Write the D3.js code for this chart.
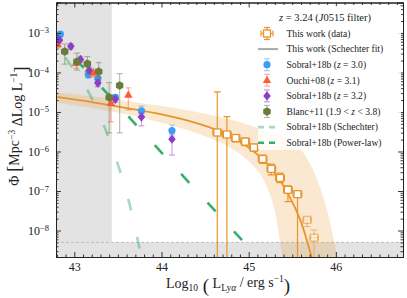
<!DOCTYPE html>
<html>
<head>
<meta charset="utf-8">
<script src="https://cdn.jsdelivr.net/npm/d3@7"></script>
<style>
body { margin: 0; background: #fff; }
text { font-family: "Liberation Serif", "DejaVu Serif", serif; fill: #222; }
</style>
</head>
<body>
<div id="chart"></div>
<script>
// ---- data (log10 L, log10 Phi) ----
const thisWorkL   = [44.64, 44.75, 44.85, 44.96, 45.06, 45.16, 45.26, 45.36, 45.45, 45.56, 45.67, 45.75];
const thisWorkPhi = [-5.52, -5.57, -5.66, -5.75, -5.90, -6.19, -6.44, -6.67, -6.97, -7.08, -7.73, -8.18];
const thisWorkHi  = [-4.49, -5.12, -5.57, -5.66, -5.81, -6.09, -6.32, -6.55, -6.87, -7.02, -7.68, -7.99];
const thisWorkLo  = [-9.5, -9.5, -5.76, -5.85, -6.00, -6.30, -6.59, -6.79, -7.27, -9.5, -7.90, -9.5];
const thisWorkPale = [0, 0, 0, 0, 0, 0, 0, 0, 0, 0, 1, 1];

const fitL   = [42.79, 43.2, 43.6, 44.0, 44.4, 44.8, 45.0, 45.2, 45.4, 45.5, 45.6, 45.7, 45.76];
const fitPhi = [-4.62, -4.75, -4.90, -5.06, -5.28, -5.62, -5.90, -6.28, -6.87, -7.28, -7.78, -8.50, -9.0];
const bandL     = [42.79, 43.2, 43.6, 44.0, 44.4, 44.8, 45.0, 45.2, 45.3, 45.4, 45.5, 45.6, 45.7, 45.8, 45.9, 46.0, 46.05];
const bandUpper = [-4.50, -4.60, -4.72, -4.85, -5.00, -5.20, -5.33, -5.48, -5.56, -5.64, -5.74, -5.95, -6.30, -6.80, -7.50, -8.50, -9.20];
const bandLower = [-4.76, -4.90, -5.06, -5.27, -5.53, -5.92, -6.25, -6.85, -7.50, -8.80, -9.5, -9.5, -9.5, -9.5, -9.5, -9.5, -9.5];

const sobral30L   = [42.84, 43.04, 43.16, 43.27, 43.47, 43.77, 44.12];
const sobral30Phi = [-3.03, -3.72, -4.06, -4.16, -4.63, -4.97, -5.47];
const sobral30Hi  = [-2.97, -3.65, -3.99, -4.09, -4.56, -4.85, -5.33];
const sobral30Lo  = [-3.09, -3.79, -4.13, -4.23, -4.70, -5.08, -5.61];

const ouchiL   = [42.81, 43.02, 43.22, 43.42, 43.62];
const ouchiPhi = [-3.29, -3.76, -4.01, -4.78, -4.57];
const ouchiHi  = [-3.22, -3.66, -3.91, -4.62, -4.39];
const ouchiLo  = [-3.38, -3.90, -4.12, -5.25, -4.95];

const sobral32L   = [42.83, 42.96, 43.07, 43.17, 43.27, 43.47, 43.77, 44.12];
const sobral32Phi = [-3.18, -3.34, -3.67, -3.95, -4.27, -4.68, -5.13, -5.69];
const sobral32Hi  = [-3.11, -3.27, -3.59, -3.87, -4.18, -4.60, -5.03, -5.56];
const sobral32Lo  = [-3.25, -3.41, -3.75, -4.03, -4.36, -4.76, -5.35, -6.09];

const blancL   = [42.89, 43.03, 43.15, 43.28, 43.40, 43.52];
const blancPhi = [-3.47, -3.73, -3.78, -3.98, -4.63, -4.33];
const blancHi  = [-3.28, -3.51, -3.60, -3.75, -4.26, -4.03];
const blancLo  = [-3.79, -3.94, -3.98, -4.12, -5.53, -5.53];

const schechterL   = [42.79, 42.89, 43.15, 43.33, 43.49, 43.62, 43.72, 43.78];
const schechterPhi = [-3.26, -3.60, -4.44, -5.29, -6.26, -7.21, -8.16, -8.80];
const powerL   = [42.79, 44.98];
const powerPhi = [-3.12, -8.38];

const xTicks = [43, 44, 45, 46];
const yTicks = [-8, -7, -6, -5, -4, -3];
const limitL = 43.43;
const limitPhi = -8.30;

// ---- layout ----
const W = 407, H = 298;
const margin = {top: 2.5, right: 4, bottom: 41, left: 56},
    width = W - margin.left - margin.right,
    height = H - margin.top - margin.bottom;

const orange = "#e8942c", blue = "#3c9ef2", red = "#ff5b38", purple = "#8a3dc6", olive = "#6b7b3b",
    green = "#35b06c";

const svg = d3.select("#chart").append("svg")
    .attr("width", W).attr("height", H);
const g = svg.append("g").attr("transform", `translate(${margin.left},${margin.top})`);

const x = d3.scaleLinear().domain([42.79, 46.77]).range([0, width]);
const y = d3.scaleLinear().domain([-8.67, -2.23]).range([height, 0]);

svg.append("defs").append("clipPath").attr("id", "plot")
    .append("rect").attr("width", width).attr("height", height);
const plot = g.append("g").attr("clip-path", "url(#plot)");

// shaded regions
plot.append("rect").attr("x", 0).attr("y", 0)
    .attr("width", x(limitL)).attr("height", height)
    .attr("fill", "#000").attr("opacity", 0.11);
plot.append("rect").attr("x", x(limitL)).attr("y", y(limitPhi))
    .attr("width", width - x(limitL)).attr("height", height - y(limitPhi))
    .attr("fill", "#000").attr("opacity", 0.11);
plot.append("line").attr("x1", 0).attr("x2", width)
    .attr("y1", y(limitPhi)).attr("y2", y(limitPhi))
    .attr("stroke", "#bdbdbd").attr("stroke-dasharray", "3,2").attr("stroke-width", 1);

// fit band + fit line
const bandData = bandL.map((l, i) => ({l, hi: bandUpper[i], lo: bandLower[i]}));
plot.append("path").datum(bandData)
    .attr("fill", orange).attr("opacity", 0.22)
    .attr("d", d3.area().curve(d3.curveMonotoneX)
        .x(d => x(d.l)).y0(d => y(d.lo)).y1(d => y(d.hi)));

// Sobral+18b model lines
plot.append("path").datum(schechterL.map((l, i) => [l, schechterPhi[i]]))
    .attr("fill", "none").attr("stroke", green).attr("stroke-opacity", 0.45)
    .attr("stroke-width", 2.6).attr("stroke-dasharray", "12,27").attr("stroke-dashoffset", 22)
    .attr("d", d3.line().curve(d3.curveMonotoneX).x(d => x(d[0])).y(d => y(d[1])));
plot.append("path").datum(powerL.map((l, i) => [l, powerPhi[i]]))
    .attr("fill", "none").attr("stroke", green)
    .attr("stroke-width", 2.6).attr("stroke-dasharray", "12,27").attr("stroke-dashoffset", 10)
    .attr("d", d3.line().x(d => x(d[0])).y(d => y(d[1])));

plot.append("path").datum(fitL.map((l, i) => [l, fitPhi[i]]))
    .attr("fill", "none").attr("stroke", orange).attr("stroke-width", 1.8)
    .attr("d", d3.line().curve(d3.curveMonotoneX).x(d => x(d[0])).y(d => y(d[1])));

// marker shapes
function marker(sel, shape, color) {
    if (shape === "circle") {
        sel.append("circle").attr("r", 3.6).attr("fill", color);
    } else if (shape === "triangle") {
        sel.append("path").attr("d", "M0,-4.6L4.2,2.8L-4.2,2.8Z").attr("fill", color);
    } else if (shape === "diamond") {
        sel.append("path").attr("d", "M0,-4.6L3.8,0L0,4.6L-3.8,0Z").attr("fill", color);
    } else if (shape === "hexagon") {
        const pts = d3.range(6).map(k => {
            const a = Math.PI / 6 + k * Math.PI / 3;
            return [4.3 * Math.cos(a), 4.3 * Math.sin(a)];
        });
        sel.append("path").attr("d", "M" + pts.join("L") + "Z").attr("fill", color);
    }
}

function series(L, phi, hi, lo, shape, color) {
    const grp = plot.append("g");
    L.forEach((l, i) => {
        const cx = x(l);
        const eb = grp.append("g").attr("stroke", color).attr("stroke-opacity", 0.45).attr("stroke-width", 1.2);
        eb.append("line").attr("x1", cx).attr("x2", cx).attr("y1", y(hi[i])).attr("y2", y(lo[i]));
        eb.append("line").attr("x1", cx - 3).attr("x2", cx + 3).attr("y1", y(hi[i])).attr("y2", y(hi[i]));
        eb.append("line").attr("x1", cx - 3).attr("x2", cx + 3).attr("y1", y(lo[i])).attr("y2", y(lo[i]));
    });
    L.forEach((l, i) => {
        const m = grp.append("g").attr("transform", `translate(${x(l)},${y(phi[i])})`);
        marker(m, shape, color);
    });
}

series(sobral30L, sobral30Phi, sobral30Hi, sobral30Lo, "circle", blue);
series(ouchiL, ouchiPhi, ouchiHi, ouchiLo, "triangle", red);
series(sobral32L, sobral32Phi, sobral32Hi, sobral32Lo, "diamond", purple);
series(blancL, blancPhi, blancHi, blancLo, "hexagon", olive);

// this work (data)
const tw = plot.append("g");
thisWorkL.forEach((l, i) => {
    const cx = x(l), cy = y(thisWorkPhi[i]);
    const op = thisWorkPale[i] ? 0.55 : 1;
    const e = tw.append("g").attr("stroke", orange).attr("stroke-width", 1.2).attr("opacity", op);
    e.append("line").attr("x1", cx).attr("x2", cx).attr("y1", y(thisWorkHi[i])).attr("y2", y(thisWorkLo[i]));
    e.append("line").attr("x1", cx - 3.5).attr("x2", cx + 3.5).attr("y1", y(thisWorkHi[i])).attr("y2", y(thisWorkHi[i]));
    e.append("line").attr("x1", cx - 3.5).attr("x2", cx + 3.5).attr("y1", y(thisWorkLo[i])).attr("y2", y(thisWorkLo[i]));
    const x0 = x(l - 0.05), x1 = x(l + 0.05);
    e.append("line").attr("x1", x0).attr("x2", x1).attr("y1", cy).attr("y2", cy);
    e.append("line").attr("x1", x0).attr("x2", x0).attr("y1", cy - 3).attr("y2", cy + 3);
    e.append("line").attr("x1", x1).attr("x2", x1).attr("y1", cy - 3).attr("y2", cy + 3);
    tw.append("rect").attr("x", cx - 3.5).attr("y", cy - 3.5).attr("width", 7).attr("height", 7)
        .attr("fill", "#fff").attr("stroke", orange).attr("stroke-width", 1.3).attr("opacity", op);
});

// ---- axes (ticks inward) ----
const xMinor = d3.range(42.8, 46.77, 0.1).map(v => +v.toFixed(1)).filter(v => !xTicks.includes(v));
const yMinor = [];
d3.range(-9, -2).forEach(k => d3.range(2, 10).forEach(m => {
    const v = k + Math.log10(m);
    if (v > -8.67 && v < -2.23) yMinor.push(v);
}));

function styleAxis(sel) {
    sel.select(".domain").attr("stroke", "#222").attr("stroke-width", 1);
    sel.selectAll(".tick line").attr("stroke", "#222").attr("stroke-width", 0.9);
}

g.append("g").attr("transform", `translate(0,${height})`)
    .call(d3.axisBottom(x).tickValues(xTicks).tickSize(-5).tickPadding(5).tickFormat(d3.format("d")))
    .call(styleAxis)
    .call(a => a.selectAll("text").attr("font-size", 12).attr("font-family", "Liberation Serif").attr("fill", "#222"));
g.append("g").attr("transform", `translate(0,${height})`)
    .call(d3.axisBottom(x).tickValues(xMinor).tickSize(-2.5).tickFormat(""))
    .call(styleAxis);
g.append("g")
    .call(d3.axisTop(x).tickValues(xTicks).tickSize(-5).tickFormat(""))
    .call(styleAxis);
g.append("g")
    .call(d3.axisTop(x).tickValues(xMinor).tickSize(-2.5).tickFormat(""))
    .call(styleAxis);

const yAxis = g.append("g")
    .call(d3.axisLeft(y).tickValues(yTicks).tickSize(-5).tickPadding(7).tickFormat(""))
    .call(styleAxis);
yAxis.selectAll(".tick").each(function (d) {
    const t = d3.select(this).append("text")
        .attr("x", -7).attr("dy", "0.32em").attr("text-anchor", "end")
        .attr("font-size", 12).attr("fill", "#222");
    t.append("tspan").text("10");
    t.append("tspan").attr("dy", "-0.45em").attr("font-size", 8.5).text("\u2212" + (-d));
});
g.append("g").call(d3.axisLeft(y).tickValues(yMinor).tickSize(-2.5).tickFormat("")).call(styleAxis);
g.append("g").attr("transform", `translate(${width},0)`)
    .call(d3.axisRight(y).tickValues(yTicks).tickSize(-5).tickFormat("")).call(styleAxis);
g.append("g").attr("transform", `translate(${width},0)`)
    .call(d3.axisRight(y).tickValues(yMinor).tickSize(-2.5).tickFormat("")).call(styleAxis);

// ---- axis labels ----
const yl = svg.append("text").attr("transform", "translate(19,126) rotate(-90)")
    .attr("text-anchor", "middle").attr("font-size", 14);
yl.append("tspan").text("\u03A6 ");
yl.append("tspan").attr("font-size", 19).attr("dy", "0.05em").text("[");
yl.append("tspan").attr("dy", "-0.05em").text("Mpc");
yl.append("tspan").attr("font-size", 9.5).attr("dy", "-0.5em").text("\u22123");
yl.append("tspan").attr("dy", "0.5em").text(" \u0394Log L");
yl.append("tspan").attr("font-size", 9.5).attr("dy", "-0.5em").text("\u22121");
yl.append("tspan").attr("font-size", 19).attr("dy", "0.55em").text("]");

const xl = svg.append("text").attr("x", 228).attr("y", 288)
    .attr("text-anchor", "middle").attr("font-size", 14);
xl.append("tspan").text("Log");
xl.append("tspan").attr("font-size", 9.5).attr("dy", "0.35em").text("10");
xl.append("tspan").attr("font-size", 19).attr("dy", "0.05em").text(" (");
xl.append("tspan").attr("dy", "-0.3em").text(" L");
xl.append("tspan").attr("font-size", 9.5).attr("dy", "0.35em").text("Ly");
xl.append("tspan").attr("font-size", 9.5).attr("font-style", "italic").text("\u03B1");
xl.append("tspan").attr("dy", "-0.35em").text(" / erg s");
xl.append("tspan").attr("font-size", 9.5).attr("dy", "-0.5em").text("\u22121");
xl.append("tspan").attr("font-size", 19).attr("dy", "0.55em").text(")");

// ---- legend ----
const legend = svg.append("g");
legend.append("rect").attr("x", 258).attr("y", 6).attr("width", 143).attr("height", 144)
    .attr("fill", "#fff").attr("opacity", 0.85).attr("rx", 2);

function richText(sel, parts) {
    parts.forEach(p => sel.append("tspan").attr("font-style", p[1] ? "italic" : null).text(p[0]));
}
const title = legend.append("text").attr("x", 325).attr("y", 20.5).attr("text-anchor", "middle").attr("font-size", 10.5);
richText(title, [["z", 1], [" = 3.24 (", 0], ["J", 1], ["0515 filter)", 0]]);

const entries = [
    {kind: "data", parts: [["This work (data)", 0]]},
    {kind: "fit", parts: [["This work (Schechter fit)", 0]]},
    {kind: "circle", color: blue, parts: [["Sobral+18b (", 0], ["z", 1], [" = 3.0)", 0]]},
    {kind: "triangle", color: red, parts: [["Ouchi+08 (", 0], ["z", 1], [" = 3.1)", 0]]},
    {kind: "diamond", color: purple, parts: [["Sobral+18b (", 0], ["z", 1], [" = 3.2)", 0]]},
    {kind: "hexagon", color: olive, parts: [["Blanc+11 (1.9 < ", 0], ["z", 1], [" < 3.8)", 0]]},
    {kind: "schechter", parts: [["Sobral+18b (Schechter)", 0]]},
    {kind: "power", parts: [["Sobral+18b (Power-law)", 0]]}
];
entries.forEach((e, i) => {
    const cy = 33.5 + i * 15.6;
    const mx = 267;
    const row = legend.append("g");
    if (e.kind === "data") {
        const s = row.append("g").attr("stroke", orange).attr("stroke-width", 1.2);
        s.append("line").attr("x1", mx).attr("x2", mx).attr("y1", cy - 6).attr("y2", cy + 6);
        s.append("line").attr("x1", mx - 6).attr("x2", mx + 6).attr("y1", cy).attr("y2", cy);
        s.append("line").attr("x1", mx - 3).attr("x2", mx + 3).attr("y1", cy - 6).attr("y2", cy - 6);
        s.append("line").attr("x1", mx - 3).attr("x2", mx + 3).attr("y1", cy + 6).attr("y2", cy + 6);
        s.append("line").attr("x1", mx - 6).attr("x2", mx - 6).attr("y1", cy - 3).attr("y2", cy + 3);
        s.append("line").attr("x1", mx + 6).attr("x2", mx + 6).attr("y1", cy - 3).attr("y2", cy + 3);
        row.append("rect").attr("x", mx - 3.5).attr("y", cy - 3.5).attr("width", 7).attr("height", 7)
            .attr("fill", "#fff").attr("stroke", orange).attr("stroke-width", 1.3);
    } else if (e.kind === "fit") {
        row.append("line").attr("x1", 258).attr("x2", 278).attr("y1", cy).attr("y2", cy)
            .attr("stroke", "#a8a8a8").attr("stroke-width", 2);
    } else if (e.kind === "schechter" || e.kind === "power") {
        row.append("line").attr("x1", 258).attr("x2", 278).attr("y1", cy).attr("y2", cy)
            .attr("stroke", green).attr("stroke-opacity", e.kind === "schechter" ? 0.45 : 1)
            .attr("stroke-width", 2.6).attr("stroke-dasharray", "6,5");
    } else {
        const s = row.append("g").attr("stroke", e.color).attr("stroke-opacity", 0.45).attr("stroke-width", 1.2);
        s.append("line").attr("x1", mx).attr("x2", mx).attr("y1", cy - 6).attr("y2", cy + 6);
        s.append("line").attr("x1", mx - 3).attr("x2", mx + 3).attr("y1", cy - 6).attr("y2", cy - 6);
        s.append("line").attr("x1", mx - 3).attr("x2", mx + 3).attr("y1", cy + 6).attr("y2", cy + 6);
        marker(row.append("g").attr("transform", `translate(${mx},${cy})`), e.kind, e.color);
    }
    const t = row.append("text").attr("x", 286.5).attr("y", cy + 3.3).attr("font-size", 9.6);
    richText(t, e.parts);
});
</script>
</body>
</html>
